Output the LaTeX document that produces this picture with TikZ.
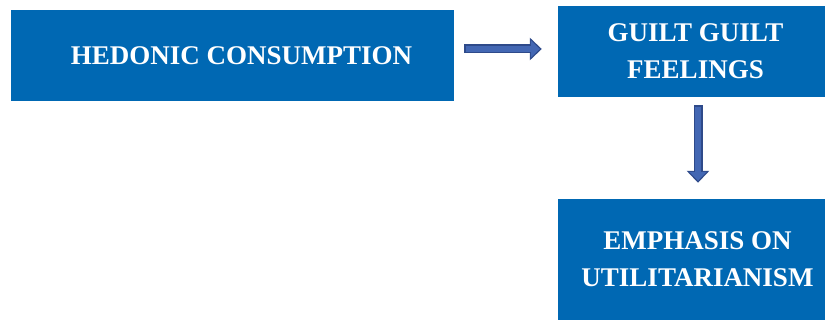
\documentclass[tikz,border=0pt]{standalone}
\usepackage{fontspec}
\setmainfont{Liberation Serif}
\usetikzlibrary{arrows.meta}
\definecolor{boxblue}{HTML}{0068B3}
\definecolor{arrowblue}{HTML}{4367B3}
\definecolor{arrowedge}{HTML}{2E4A8A}

\begin{document}
\begin{tikzpicture}[x=1pt,y=-1pt,
  box/.style={fill=boxblue, text=white, align=center, inner sep=0pt,
    font=\fontsize{27}{37}\selectfont\bfseries},
  arrowout/.style={line width=9pt, arrowedge, -{Triangle[width=22pt,length=12pt]}},
  arrowin/.style={line width=6pt, arrowblue, -{Triangle[width=17pt,length=9pt]}}]
\useasboundingbox (0,0) rectangle (825,320);
\node[box, minimum width=443pt, minimum height=91pt] (hed) at (232.5,55.5) {\hspace*{18pt}HEDONIC CONSUMPTION};
\node[box, minimum width=267pt, minimum height=91pt] (guilt) at (691.5,51.5) {\hspace*{8pt}GUILT GUILT\\\hspace*{8pt}FEELINGS};
\node[box, minimum width=267pt, minimum height=121pt] (emph) at (691.5,259.5) {\hspace*{12pt}EMPHASIS ON\\\hspace*{12pt}UTILITARIANISM};
\draw[arrowout, shorten <=10pt, shorten >=16pt] ([yshift=2.5pt]hed.east |- guilt.west) -- ([yshift=2.5pt]guilt.west);
\draw[arrowin, shorten <=11.5pt, shorten >=18pt] ([yshift=2.5pt]hed.east |- guilt.west) -- ([yshift=2.5pt]guilt.west);
\draw[arrowout, shorten <=8pt, shorten >=16pt] ([xshift=6.5pt]guilt.south) -- ([xshift=6.5pt]emph.north);
\draw[arrowin, shorten <=9.5pt, shorten >=18pt] ([xshift=6.5pt]guilt.south) -- ([xshift=6.5pt]emph.north);
\end{tikzpicture}
\end{document}
